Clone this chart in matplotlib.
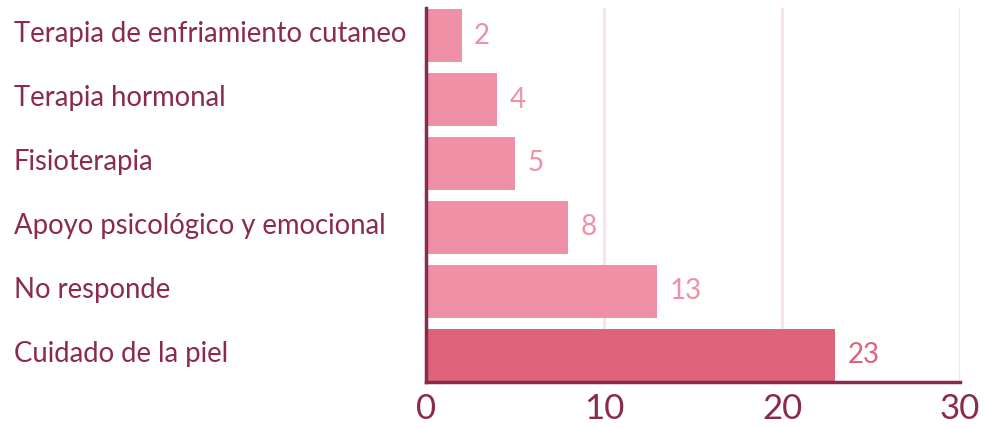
import matplotlib.pyplot as plt
from matplotlib.transforms import blended_transform_factory

# tratamientos recibidos (de abajo hacia arriba)
categories = ['Cuidado de la piel', 'No responde', 'Apoyo psicológico y emocional',
              'Fisioterapia', 'Terapia hormonal', 'Terapia de enfriamiento cutaneo']
values = [23, 13, 8, 5, 4, 2]
xticks = [0, 10, 20, 30]

maroon = '#8B2A4E'
pink = '#F090A6'
dark_pink = '#DE6379'
grid_pink = '#F9E1E9'

plt.rcParams['font.family'] = ['Lato', 'DejaVu Sans']

fig = plt.figure(figsize=(9.84, 4.29), dpi=100)
ax = fig.add_axes([426 / 984, (429 - 382) / 429, (960 - 426) / 984, (382 - 8) / 429])

pos = list(range(len(values)))
colors = [dark_pink] + [pink] * (len(values) - 1)
ax.barh(pos, values, height=0.83, color=colors, zorder=2)

for y, v, c in zip(pos, values, colors):
    ax.text(v + 0.7, y, str(v), va='center', ha='left', fontsize=20, color=c)

trans = blended_transform_factory(fig.transFigure, ax.transData)
for y, cat in zip(pos, categories):
    ax.text(14 / 984, y + 0.03, cat, transform=trans, va='center', ha='left',
            fontsize=19.8, color=maroon)

ax.set_xlim(0, 30)
ax.set_ylim(-0.415, 5.43)
ax.set_xticks(xticks)
ax.set_xticklabels([str(t) for t in xticks], fontsize=25, color=maroon)
ax.set_yticks([])
ax.tick_params(axis='x', length=0, pad=8)
ax.grid(axis='x', color=grid_pink, linewidth=2, zorder=0)

for side in ['top', 'right']:
    ax.spines[side].set_visible(False)
for side in ['left', 'bottom']:
    ax.spines[side].set_color(maroon)
    ax.spines[side].set_linewidth(2.5)
    ax.spines[side].set_zorder(3)

fig.savefig('out.png', dpi=100)
